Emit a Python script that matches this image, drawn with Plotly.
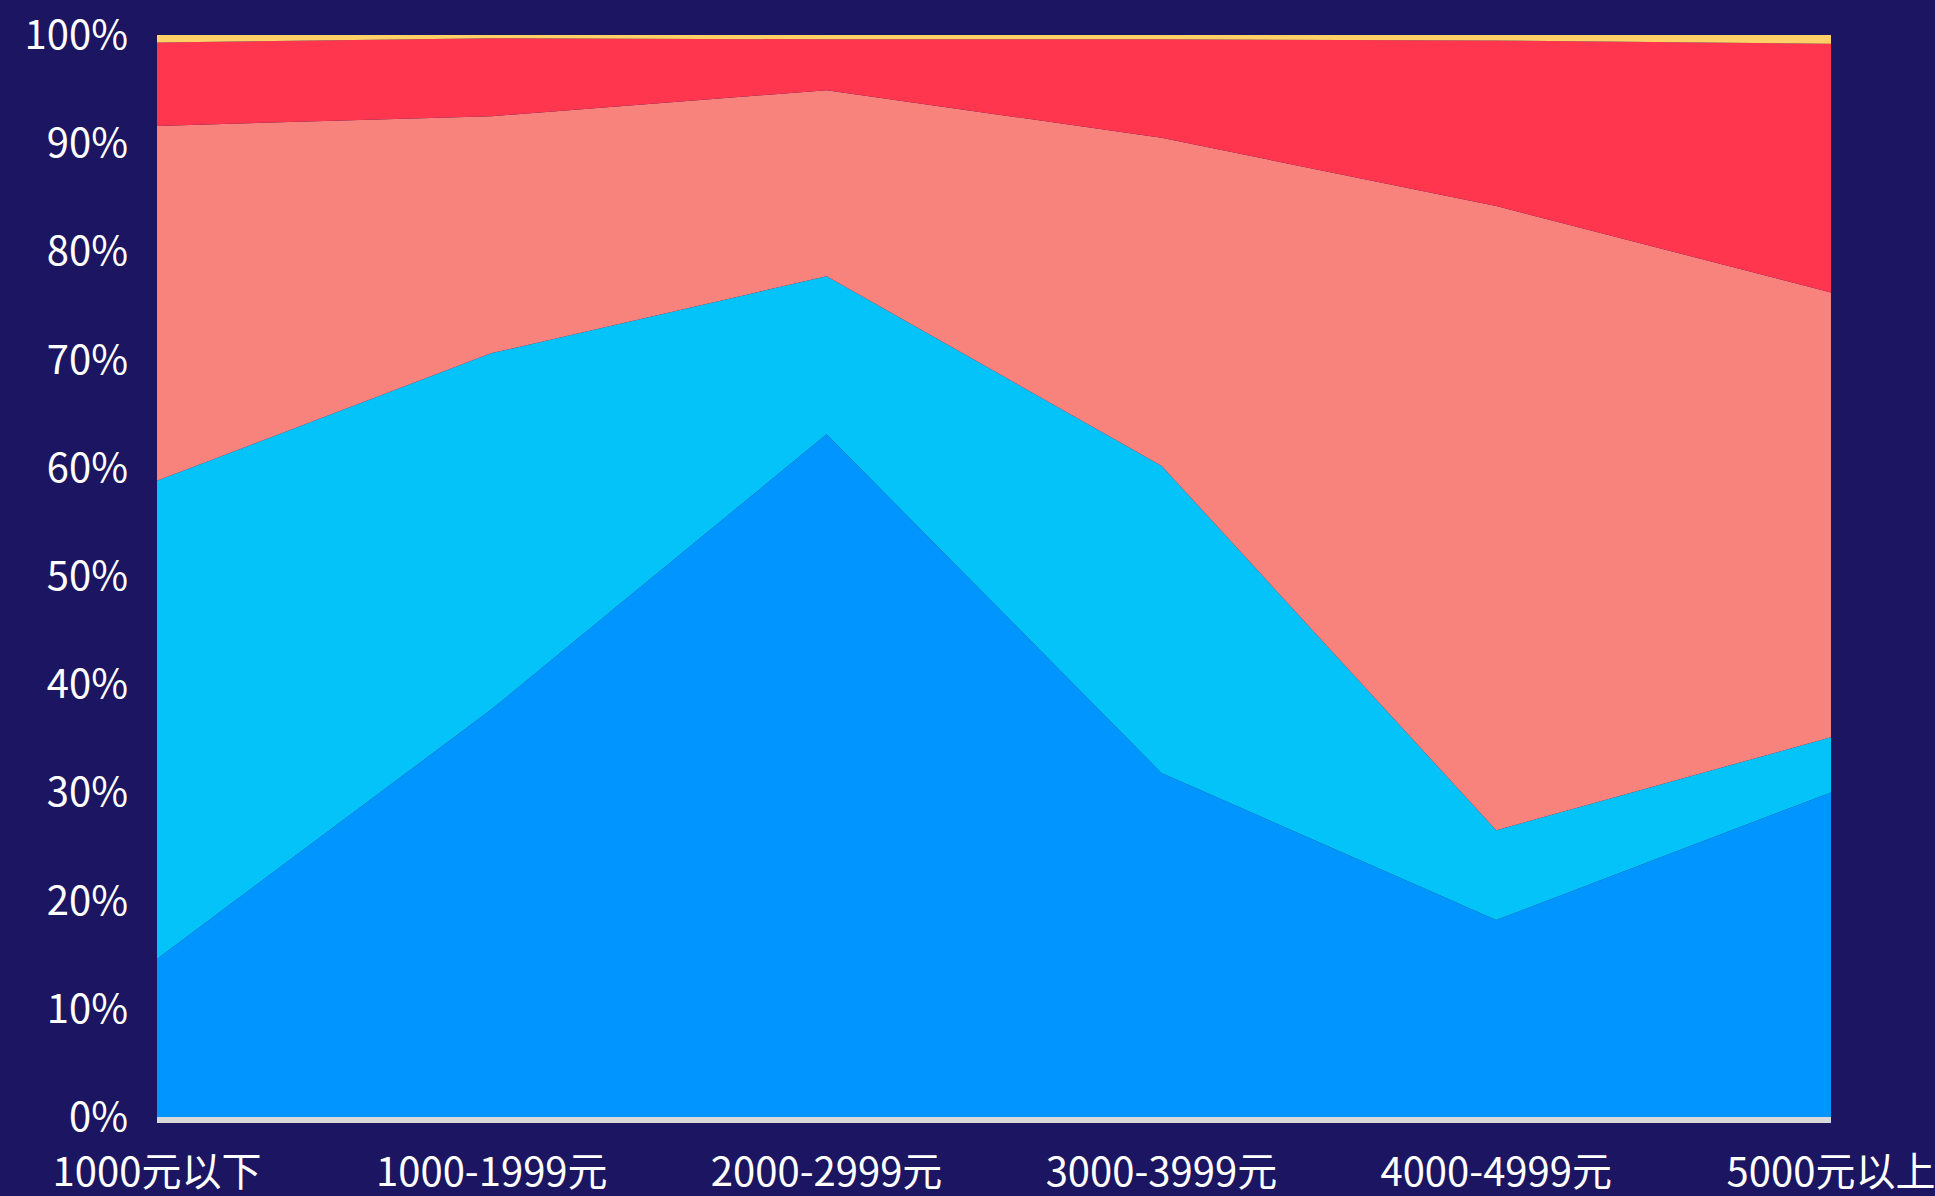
import plotly.graph_objects as go

categories = ["1000元以下", "1000-1999元", "2000-2999元", "3000-3999元", "4000-4999元", "5000元以上"]
series_1 = [14.6, 37.7, 63.1, 31.8, 18.2, 30.0]
series_2 = [44.2, 32.9, 14.6, 28.4, 8.3, 5.1]
series_3 = [32.8, 21.9, 17.2, 30.3, 57.7, 41.1]
series_4 = [7.7, 7.2, 4.7, 9.1, 15.3, 23.0]
series_5 = [0.7, 0.3, 0.4, 0.4, 0.5, 0.8]
colors = ["#0095FF", "#03C3F8", "#F8837D", "#FF364E", "#FFD166"]
y_ticks = [0, 10, 20, 30, 40, 50, 60, 70, 80, 90, 100]

FONT = "Noto Sans CJK SC, Source Han Sans SC, sans-serif"
BG = "#1C1561"

fig = go.Figure()
for vals, col in zip([series_1, series_2, series_3, series_4, series_5], colors):
    fig.add_trace(go.Scatter(
        x=categories, y=vals, mode="lines", stackgroup="one",
        line=dict(width=0, color=col), fillcolor=col, showlegend=False,
        hoverinfo="skip",
    ))

fig.update_layout(
    width=1935, height=1196,
    paper_bgcolor=BG, plot_bgcolor=BG,
    margin=dict(l=157, r=104, t=35, b=79),
    font=dict(family=FONT, color="#FFFFFF", size=40),
    showlegend=False,
)
fig.update_xaxes(
    type="category", range=[0, 5], showgrid=False, zeroline=False,
    showline=True, linecolor="#D9D9D9", linewidth=6,
    ticks="outside", ticklen=15, tickcolor="rgba(0,0,0,0)",
    tickfont=dict(family=FONT, size=40, color="#FFFFFF"),
    automargin=False,
)
fig.update_yaxes(
    range=[0, 100], tickvals=y_ticks, ticktext=[f"{v}%" for v in y_ticks],
    showgrid=False, zeroline=False, showline=False,
    ticks="outside", ticklen=20, tickcolor="rgba(0,0,0,0)",
    tickfont=dict(family=FONT, size=40, color="#FFFFFF"),
    automargin=False,
)

fig.write_html(
    "out.html",
    config={"displayModeBar": False},
    post_script=f"document.body.style.margin='0';document.body.style.background='{BG}';document.body.style.overflow='hidden';",
)
